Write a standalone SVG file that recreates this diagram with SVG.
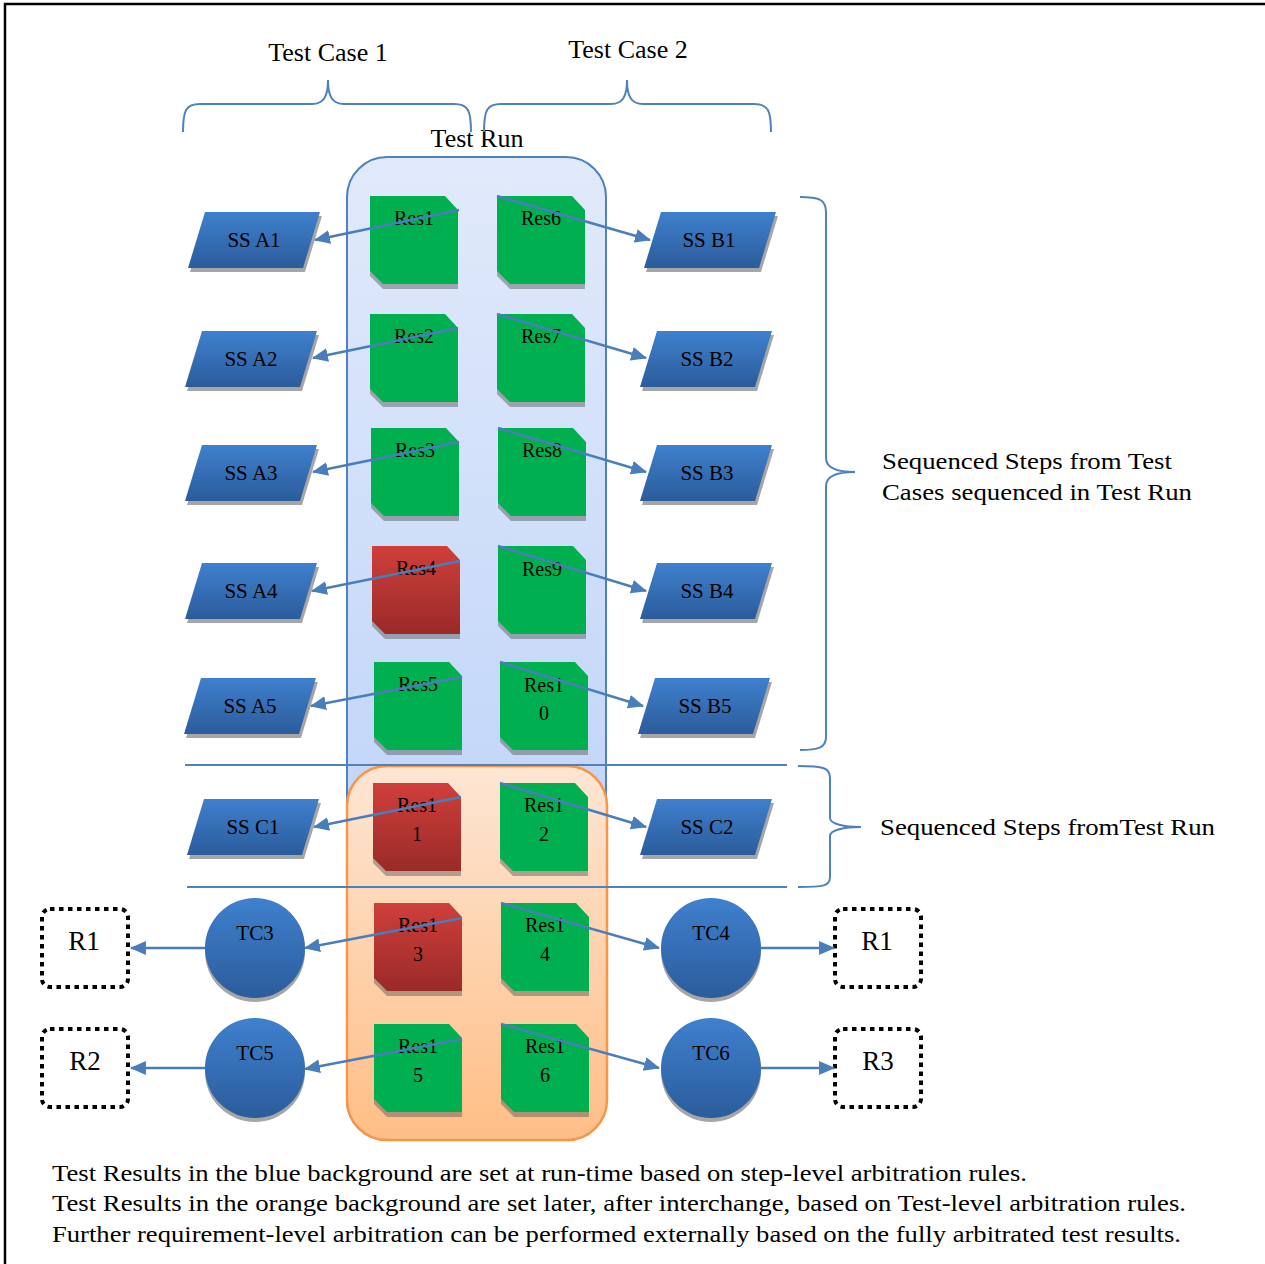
<svg xmlns="http://www.w3.org/2000/svg" width="1265" height="1264" viewBox="0 0 1265 1264">
<style>
text{font-family:"Liberation Serif","Times New Roman",serif;fill:#000}
.ss{font-size:21px;text-anchor:middle}
.res{font-size:20px;text-anchor:middle}
.tc{font-size:21px;text-anchor:middle}
.rl{font-size:27px;text-anchor:middle}
.title{font-size:26px;text-anchor:middle}
.note{font-size:23px}
.side{font-size:23px}
.brace{fill:none;stroke:#4F81BD;stroke-width:2}
.conn{fill:none;stroke:#4A7EBB;stroke-width:2.5;marker-end:url(#arr)}
.dot{fill:none;stroke:#000;stroke-width:4;stroke-dasharray:4.5 4.5}
.sep{stroke:#4F81BD;stroke-width:2}
</style>
<defs>
<linearGradient id="gBlue" x1="0" y1="0" x2="0" y2="1"><stop offset="0" stop-color="#3F80CE"/><stop offset="1" stop-color="#2B5C9B"/></linearGradient>
<linearGradient id="gRed" x1="0" y1="0" x2="0" y2="1"><stop offset="0" stop-color="#CF3F3B"/><stop offset="1" stop-color="#9A2A28"/></linearGradient>
<linearGradient id="gRun" x1="0" y1="0" x2="0" y2="1"><stop offset="0" stop-color="#E1EAFB"/><stop offset="0.6" stop-color="#C5D8F9"/><stop offset="1" stop-color="#B8CFF7"/></linearGradient>
<linearGradient id="gOr" x1="0" y1="0" x2="0" y2="1"><stop offset="0" stop-color="#FDE6D4"/><stop offset="1" stop-color="#FFBE86"/></linearGradient>
<path id="para" d="M17,0 H132 L115,56 H0 Z"/>
<path id="resShape" d="M0,0 H75 L88,14 V88 H13 L0,75 Z"/>
<marker id="arr" markerUnits="userSpaceOnUse" markerWidth="16" markerHeight="14" viewBox="0 0 15 13" refX="14" refY="6.5" orient="auto">
<path d="M0,0 L15,6.5 L0,13 Z" fill="#4A7EBB"/>
</marker>
</defs>
<rect width="1265" height="1264" fill="#fff"/>
<path d="M5,1264 V4 H1265" fill="none" stroke="#000" stroke-width="2.5"/>

<g id="test-run">
<rect x="347" y="157" width="259" height="983" rx="40" fill="url(#gRun)" stroke="#4F81BD" stroke-width="2"/>
<text class="title" x="477" y="147">Test Run</text>
</g>
<g id="orange-area">
<rect x="347" y="766" width="260" height="374" rx="40" fill="url(#gOr)" stroke="#F79646" stroke-width="2.5"/>
</g>

<g id="separators">
<line class="sep" x1="185" y1="765" x2="787" y2="765"/>
<line class="sep" x1="187" y1="887" x2="787" y2="887"/>
</g>

<g id="braces">
<path class="brace" d="M183,132 C183,110 186,104 200,104 L312,104 C324,104 328,96 328,80 C328,96 332,104 344,104 L454,104 C468,104 471,110 471,132"/>
<path class="brace" d="M484,132 C484,110 487,104 501,104 L611,104 C623,104 627,96 627,80 C627,96 631,104 643,104 L754,104 C768,104 771,110 771,132"/>
<path class="brace" d="M800,197 C818,197 826,199 826,212 L826,458 C826,468 838,472 855,472 C838,472 826,476 826,486 L826,737 C826,748 818,750 800,750"/>
<path class="brace" d="M798,766 C824,766 830,768 830,778 L830,818 C830,824 844,827 861,827 C844,827 830,830 830,836 L830,877 C830,886 824,887 798,887"/>
<text class="title" x="328" y="61">Test Case 1</text>
<text class="title" x="628" y="58">Test Case 2</text>
<text class="side" x="882" y="469" textLength="290" lengthAdjust="spacingAndGlyphs">Sequenced Steps from Test</text>
<text class="side" x="882" y="500" textLength="310" lengthAdjust="spacingAndGlyphs">Cases sequenced in Test Run</text>
<text class="side" x="880" y="835" textLength="335" lengthAdjust="spacingAndGlyphs">Sequenced Steps fromTest Run</text>
</g>

<g id="ss-a1"><use href="#para" x="190" y="216" fill="#A6A6A6"/><use href="#para" x="188" y="212" fill="url(#gBlue)"/><text class="ss" x="254" y="247">SS A1</text></g>
<g id="ss-a2"><use href="#para" x="187" y="335" fill="#A6A6A6"/><use href="#para" x="185" y="331" fill="url(#gBlue)"/><text class="ss" x="251" y="366">SS A2</text></g>
<g id="ss-a3"><use href="#para" x="187" y="449" fill="#A6A6A6"/><use href="#para" x="185" y="445" fill="url(#gBlue)"/><text class="ss" x="251" y="480">SS A3</text></g>
<g id="ss-a4"><use href="#para" x="187" y="567" fill="#A6A6A6"/><use href="#para" x="185" y="563" fill="url(#gBlue)"/><text class="ss" x="251" y="598">SS A4</text></g>
<g id="ss-a5"><use href="#para" x="186" y="682" fill="#A6A6A6"/><use href="#para" x="184" y="678" fill="url(#gBlue)"/><text class="ss" x="250" y="713">SS A5</text></g>
<g id="ss-c1"><use href="#para" x="189" y="803" fill="#A6A6A6"/><use href="#para" x="187" y="799" fill="url(#gBlue)"/><text class="ss" x="253" y="834">SS C1</text></g>
<g id="ss-b1"><use href="#para" x="646" y="216" fill="#A6A6A6"/><use href="#para" x="644" y="212" fill="url(#gBlue)"/><text class="ss" x="709" y="247">SS B1</text></g>
<g id="ss-b2"><use href="#para" x="642" y="335" fill="#A6A6A6"/><use href="#para" x="640" y="331" fill="url(#gBlue)"/><text class="ss" x="707" y="366">SS B2</text></g>
<g id="ss-b3"><use href="#para" x="642" y="449" fill="#A6A6A6"/><use href="#para" x="640" y="445" fill="url(#gBlue)"/><text class="ss" x="707" y="480">SS B3</text></g>
<g id="ss-b4"><use href="#para" x="642" y="567" fill="#A6A6A6"/><use href="#para" x="640" y="563" fill="url(#gBlue)"/><text class="ss" x="707" y="598">SS B4</text></g>
<g id="ss-b5"><use href="#para" x="640" y="682" fill="#A6A6A6"/><use href="#para" x="638" y="678" fill="url(#gBlue)"/><text class="ss" x="705" y="713">SS B5</text></g>
<g id="ss-c2"><use href="#para" x="642" y="803" fill="#A6A6A6"/><use href="#para" x="640" y="799" fill="url(#gBlue)"/><text class="ss" x="707" y="834">SS C2</text></g>

<g id="res1"><use href="#resShape" x="370" y="201" fill="#555" fill-opacity="0.45"/><use href="#resShape" x="370" y="196" fill="#00B050"/><text class="res" x="414" y="225">Res1</text></g>
<g id="res2"><use href="#resShape" x="370" y="319" fill="#555" fill-opacity="0.45"/><use href="#resShape" x="370" y="314" fill="#00B050"/><text class="res" x="414" y="343">Res2</text></g>
<g id="res3"><use href="#resShape" x="371" y="433" fill="#555" fill-opacity="0.45"/><use href="#resShape" x="371" y="428" fill="#00B050"/><text class="res" x="415" y="457">Res3</text></g>
<g id="res4"><use href="#resShape" x="372" y="551" fill="#555" fill-opacity="0.45"/><use href="#resShape" x="372" y="546" fill="url(#gRed)"/><text class="res" x="416" y="575">Res4</text></g>
<g id="res5"><use href="#resShape" x="374" y="667" fill="#555" fill-opacity="0.45"/><use href="#resShape" x="374" y="662" fill="#00B050"/><text class="res" x="418" y="691">Res5</text></g>
<g id="res11"><use href="#resShape" x="373" y="788" fill="#555" fill-opacity="0.45"/><use href="#resShape" x="373" y="783" fill="url(#gRed)"/><text class="res" x="417" y="812">Res1</text><text class="res" x="417" y="841">1</text></g>
<g id="res13"><use href="#resShape" x="374" y="908" fill="#555" fill-opacity="0.45"/><use href="#resShape" x="374" y="903" fill="url(#gRed)"/><text class="res" x="418" y="932">Res1</text><text class="res" x="418" y="961">3</text></g>
<g id="res15"><use href="#resShape" x="374" y="1029" fill="#555" fill-opacity="0.45"/><use href="#resShape" x="374" y="1024" fill="#00B050"/><text class="res" x="418" y="1053">Res1</text><text class="res" x="418" y="1082">5</text></g>
<g id="res6"><use href="#resShape" x="497" y="201" fill="#555" fill-opacity="0.45"/><use href="#resShape" x="497" y="196" fill="#00B050"/><text class="res" x="541" y="225">Res6</text></g>
<g id="res7"><use href="#resShape" x="497" y="319" fill="#555" fill-opacity="0.45"/><use href="#resShape" x="497" y="314" fill="#00B050"/><text class="res" x="541" y="343">Res7</text></g>
<g id="res8"><use href="#resShape" x="498" y="433" fill="#555" fill-opacity="0.45"/><use href="#resShape" x="498" y="428" fill="#00B050"/><text class="res" x="542" y="457">Res8</text></g>
<g id="res9"><use href="#resShape" x="498" y="551" fill="#555" fill-opacity="0.45"/><use href="#resShape" x="498" y="546" fill="#00B050"/><text class="res" x="542" y="576">Res9</text></g>
<g id="res10"><use href="#resShape" x="500" y="667" fill="#555" fill-opacity="0.45"/><use href="#resShape" x="500" y="662" fill="#00B050"/><text class="res" x="544" y="692">Res1</text><text class="res" x="544" y="720">0</text></g>
<g id="res12"><use href="#resShape" x="500" y="788" fill="#555" fill-opacity="0.45"/><use href="#resShape" x="500" y="783" fill="#00B050"/><text class="res" x="544" y="812">Res1</text><text class="res" x="544" y="841">2</text></g>
<g id="res14"><use href="#resShape" x="501" y="908" fill="#555" fill-opacity="0.45"/><use href="#resShape" x="501" y="903" fill="#00B050"/><text class="res" x="545" y="932">Res1</text><text class="res" x="545" y="961">4</text></g>
<g id="res16"><use href="#resShape" x="501" y="1029" fill="#555" fill-opacity="0.45"/><use href="#resShape" x="501" y="1024" fill="#00B050"/><text class="res" x="545" y="1053">Res1</text><text class="res" x="545" y="1082">6</text></g>

<g id="tc3"><circle cx="255" cy="952" r="50" fill="#A6A6A6"/><circle cx="255" cy="948" r="50" fill="url(#gBlue)"/><text class="tc" x="255" y="940">TC3</text></g>
<g id="tc5"><circle cx="255" cy="1072" r="50" fill="#A6A6A6"/><circle cx="255" cy="1068" r="50" fill="url(#gBlue)"/><text class="tc" x="255" y="1060">TC5</text></g>
<g id="tc4"><circle cx="711" cy="952" r="50" fill="#A6A6A6"/><circle cx="711" cy="948" r="50" fill="url(#gBlue)"/><text class="tc" x="711" y="940">TC4</text></g>
<g id="tc6"><circle cx="711" cy="1072" r="50" fill="#A6A6A6"/><circle cx="711" cy="1068" r="50" fill="url(#gBlue)"/><text class="tc" x="711" y="1060">TC6</text></g>

<g id="r1-left"><rect class="dot" x="42" y="909" width="86" height="78" rx="8"/><text class="rl" x="84" y="950">R1</text></g>
<g id="r2"><rect class="dot" x="42" y="1029" width="86" height="78" rx="8"/><text class="rl" x="85" y="1070">R2</text></g>
<g id="r1-right"><rect class="dot" x="835" y="909" width="86" height="78" rx="8"/><text class="rl" x="877" y="950">R1</text></g>
<g id="r3"><rect class="dot" x="835" y="1029" width="86" height="78" rx="8"/><text class="rl" x="878" y="1070">R3</text></g>

<g id="connectors">
<line class="conn" x1="459" y1="210" x2="315" y2="240"/>
<line class="conn" x1="458" y1="328" x2="313" y2="358"/>
<line class="conn" x1="459" y1="442" x2="313" y2="472"/>
<line class="conn" x1="460" y1="561" x2="312" y2="591"/>
<line class="conn" x1="462" y1="677" x2="311" y2="706"/>
<line class="conn" x1="461" y1="797" x2="314" y2="827"/>
<line class="conn" x1="462" y1="918" x2="305" y2="948"/>
<line class="conn" x1="462" y1="1039" x2="305" y2="1069"/>
<line class="conn" x1="497" y1="196" x2="650" y2="240"/>
<line class="conn" x1="497" y1="314" x2="646" y2="358"/>
<line class="conn" x1="498" y1="428" x2="646" y2="472"/>
<line class="conn" x1="498" y1="546" x2="646" y2="591"/>
<line class="conn" x1="500" y1="662" x2="643" y2="706"/>
<line class="conn" x1="500" y1="783" x2="646" y2="827"/>
<line class="conn" x1="501" y1="903" x2="659" y2="948"/>
<line class="conn" x1="501" y1="1024" x2="659" y2="1068"/>
<line class="conn" x1="205" y1="948" x2="131" y2="948"/>
<line class="conn" x1="205" y1="1068" x2="131" y2="1068"/>
<line class="conn" x1="761" y1="948" x2="834" y2="948"/>
<line class="conn" x1="761" y1="1068" x2="834" y2="1068"/>
</g>

<g id="notes">
<text class="note" x="52" y="1181" textLength="975" lengthAdjust="spacingAndGlyphs">Test Results in the blue background are set at run-time based on step-level arbitration rules.</text>
<text class="note" x="52" y="1211" textLength="1134" lengthAdjust="spacingAndGlyphs">Test Results in the orange background are set later, after interchange, based on Test-level arbitration rules.</text>
<text class="note" x="52" y="1242" textLength="1129" lengthAdjust="spacingAndGlyphs">Further requirement-level arbitration can be performed externally based on the fully arbitrated test results.</text>
</g>
</svg>
